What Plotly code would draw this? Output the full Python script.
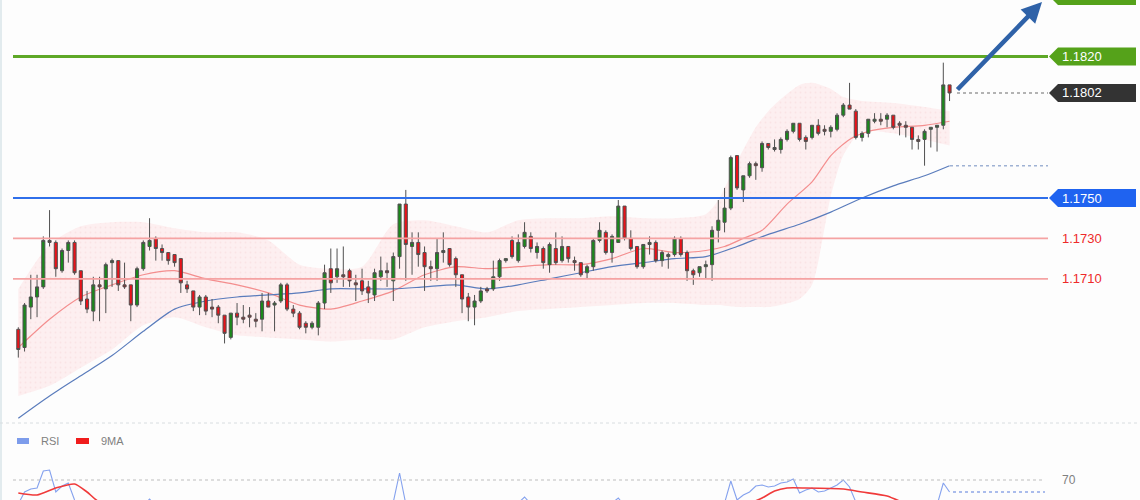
import plotly.graph_objects as go

# ---------------- data ----------------
opens = [1.1685,1.1676,1.1696,1.1701,1.1706,1.1729,1.1728,1.1714,1.1724,1.1728,
         1.1714,1.1700,1.1694,1.1707,1.1705,1.1718,1.1719,1.1707,1.1707,1.1697,
         1.1715,1.1726,1.1730,1.1725,1.1723,1.1722,1.1720,1.1707,1.1704,1.1696,
         1.1701,1.1696,1.1696,1.1692,1.1681,1.1693,1.1691,1.1692,1.1690,1.1690,
         1.1699,1.1697,1.1699,1.1707,1.1695,1.1693,1.1688,1.1686,1.1686,1.1698,
         1.1715,1.1711,1.1712,1.1714,1.1708,1.1709,1.1706,1.1702,1.1711,1.1714,
         1.1709,1.1721,1.1747,1.1726,1.1728,1.1723,1.1716,1.1715,1.1723,1.1725,
         1.1720,1.1712,1.1701,1.1696,1.1699,1.1705,1.1705,1.1711,1.1719,1.1729,
         1.1719,1.1726,1.1731,1.1723,1.1725,1.1717,1.1725,1.1719,1.1726,1.1719,
         1.1718,1.1713,1.1716,1.1729,1.1733,1.1723,1.1728,1.1746,1.1730,1.1726,
         1.1716,1.1727,1.1728,1.1719,1.1721,1.1722,1.1730,1.1723,1.1714,1.1713,
         1.1716,1.1717,1.1734,1.1738,1.1745,1.1771,1.1754,1.1761,1.1767,1.1765,
         1.1777,1.1775,1.1774,1.1779,1.1783,1.1787,1.1780,1.1780,1.1786,1.1784,
         1.1783,1.1784,1.1791,1.1796,1.1793,1.1780,1.1782,1.1788,1.1789,1.1789,
         1.1791,1.1787,1.1786,1.1785,1.1779,1.1779,1.1784,1.1785,1.1786,1.1806]
highs = [1.1686,1.1698,1.1712,1.1712,1.1731,1.1744,1.1729,1.1725,1.1729,1.1729,
         1.1714,1.1704,1.1711,1.1711,1.1718,1.1720,1.1719,1.1718,1.1707,1.1716,
         1.1729,1.1740,1.1731,1.1727,1.1723,1.1722,1.1720,1.1709,1.1704,1.1702,
         1.1702,1.1700,1.1697,1.1692,1.1693,1.1698,1.1697,1.1696,1.1693,1.1703,
         1.1703,1.1699,1.1708,1.1708,1.1697,1.1694,1.1689,1.1689,1.1699,1.1717,
         1.1725,1.1725,1.1726,1.1715,1.1712,1.1715,1.1709,1.1715,1.1721,1.1718,
         1.1723,1.1747,1.1754,1.1733,1.1733,1.1726,1.1719,1.1730,1.1733,1.1725,
         1.1721,1.1712,1.1703,1.1702,1.1706,1.1706,1.1719,1.1720,1.1720,1.1731,
         1.1732,1.1738,1.1733,1.1728,1.1726,1.1728,1.1733,1.1731,1.1726,1.1721,
         1.1718,1.1717,1.1730,1.1738,1.1734,1.1732,1.1749,1.1746,1.1734,1.1726,
         1.1727,1.1731,1.1729,1.1724,1.1723,1.1731,1.1731,1.1724,1.1715,1.1716,
         1.1719,1.1736,1.1749,1.1755,1.1771,1.1771,1.1761,1.1768,1.1768,1.1778,
         1.1777,1.1779,1.1780,1.1784,1.1787,1.1787,1.1781,1.1786,1.1789,1.1786,
         1.1786,1.1792,1.1797,1.1807,1.1794,1.1783,1.1789,1.1792,1.1792,1.1792,
         1.1791,1.1788,1.1788,1.1785,1.1781,1.1784,1.1785,1.1786,1.1817,1.1806]
lows  = [1.1671,1.1674,1.1690,1.1691,1.1705,1.1726,1.1711,1.1713,1.1718,1.1712,
         1.1697,1.1693,1.1689,1.1689,1.1693,1.1706,1.1704,1.1705,1.1689,1.1696,
         1.1714,1.1724,1.1719,1.1719,1.1717,1.1716,1.1703,1.1703,1.1694,1.1692,
         1.1692,1.1691,1.1688,1.1678,1.1680,1.1687,1.1688,1.1686,1.1686,1.1684,
         1.1696,1.1684,1.1698,1.1694,1.1691,1.1685,1.1683,1.1685,1.1682,1.1695,
         1.1703,1.1708,1.1706,1.1706,1.1699,1.1702,1.1698,1.1699,1.1709,1.1706,
         1.1699,1.1715,1.1709,1.1712,1.1716,1.1704,1.1709,1.1709,1.1718,1.1716,
         1.1706,1.1693,1.1689,1.1687,1.1698,1.1703,1.1704,1.1709,1.1718,1.1720,
         1.1718,1.1725,1.1723,1.1720,1.1715,1.1713,1.1717,1.1718,1.1718,1.1714,
         1.1711,1.1710,1.1714,1.1728,1.1722,1.1718,1.1728,1.1729,1.1724,1.1715,
         1.1715,1.1722,1.1718,1.1716,1.1715,1.1721,1.1721,1.1709,1.1707,1.1711,
         1.1710,1.1709,1.1728,1.1733,1.1744,1.1754,1.1748,1.1760,1.1759,1.1763,
         1.1774,1.1773,1.1772,1.1778,1.1782,1.1778,1.1774,1.1779,1.1781,1.1781,
         1.1780,1.1783,1.1790,1.1794,1.1779,1.1778,1.1780,1.1787,1.1786,1.1785,
         1.1784,1.1781,1.1780,1.1774,1.1774,1.1766,1.1775,1.1773,1.1784,1.1798]
closes = [1.1675,1.1697,1.1701,1.1706,1.1729,1.1728,1.1715,1.1724,1.1728,1.1713,
         1.1699,1.1695,1.1707,1.1706,1.1717,1.1719,1.1707,1.1706,1.1697,1.1715,
         1.1728,1.1729,1.1725,1.1723,1.1719,1.1718,1.1708,1.1705,1.1696,1.1701,
         1.1694,1.1695,1.1692,1.1683,1.1693,1.1691,1.1690,1.1691,1.1689,1.1699,
         1.1696,1.1698,1.1707,1.1695,1.1693,1.1686,1.1686,1.1688,1.1698,1.1713,
         1.1708,1.1715,1.1711,1.1709,1.1707,1.1704,1.1703,1.1713,1.1714,1.1713,
         1.1721,1.1747,1.1727,1.1728,1.1722,1.1716,1.1715,1.1723,1.1724,1.1717,
         1.1712,1.1700,1.1696,1.1699,1.1704,1.1704,1.1711,1.1719,1.1720,1.1721,
         1.1728,1.1733,1.1725,1.1726,1.1718,1.1727,1.1718,1.1726,1.1720,1.1718,
         1.1712,1.1716,1.1729,1.1734,1.1723,1.1731,1.1746,1.1730,1.1725,1.1716,
         1.1727,1.1728,1.1719,1.1723,1.1722,1.1730,1.1722,1.1714,1.1712,1.1716,
         1.1717,1.1734,1.1739,1.1745,1.1770,1.1755,1.1761,1.1767,1.1766,1.1777,
         1.1775,1.1774,1.1779,1.1783,1.1787,1.1779,1.1778,1.1786,1.1782,1.1783,
         1.1785,1.1791,1.1796,1.1794,1.1780,1.1782,1.1789,1.1789,1.1788,1.1791,
         1.1785,1.1786,1.1785,1.1779,1.1778,1.1783,1.1785,1.1786,1.1806,1.1802]

# Bollinger band edges (sampled at candle index)
band_idx = [0,5,10,15,20,25,30,35,40,45,50,55,60,65,70,75,80,85,90,95,100,105,
            110,112,115,118,120,122,125,127,130,132,135,140,145,149]
band_upper = [1.1705,1.1727,1.1736,1.1738,1.1738,1.1735,1.1733,1.1733,1.1729,1.1717,
              1.1715,1.1716,1.1737,1.1739,1.1736,1.1733,1.1739,1.1740,1.1740,1.1741,
              1.1740,1.1740,1.1742,1.1749,1.1768,1.1785,1.1793,1.1799,1.1806,1.1807,
              1.1804,1.1800,1.1798,1.1797,1.1795,1.1793]
band_lower = [1.1652,1.1657,1.1666,1.1675,1.1687,1.1691,1.1686,1.1682,1.1681,1.1680,
              1.1679,1.1680,1.1680,1.1686,1.1689,1.1691,1.1694,1.1695,1.1696,1.1697,
              1.1698,1.1698,1.1697,1.1697,1.1696,1.1696,1.1696,1.1697,1.1700,1.1707,
              1.1751,1.1771,1.1783,1.1782,1.1779,1.1776]

# middle band (light red line)
mid_idx = [0,5,10,15,20,25,30,35,40,45,50,55,60,65,70,75,80,85,90,95,100,105,
           110,113,116,119,123,127,130,133,136,140,145,149]
mid_vals = [1.1676,1.1690,1.1701,1.1707,1.1712,1.1714,1.1710,1.1707,1.1703,1.1697,
            1.1695,1.1699,1.1704,1.1712,1.1716,1.1715,1.1716,1.1717,1.1717,1.1720,
            1.1725,1.1723,1.1724,1.1726,1.1730,1.1734,1.1747,1.1758,1.1771,1.1779,
            1.1783,1.1785,1.1786,1.1788]

# long moving average (blue line)
ma_idx = [0,5,10,15,20,25,30,35,40,45,50,55,60,65,70,75,80,85,90,95,100,105,
          110,115,120,125,130,135,140,145,149]
ma_vals = [1.1641,1.1652,1.1662,1.1672,1.1684,1.1695,1.1699,1.1701,1.1702,1.1703,
           1.1705,1.1705,1.1705,1.1706,1.1707,1.1705,1.1707,1.1710,1.1713,1.1716,
           1.1718,1.1720,1.1721,1.1726,1.1732,1.1737,1.1743,1.1750,1.1756,1.1761,
           1.1766]

# RSI panel
rsi_idx = [0,1,2,3,4,5,6,7,8,9,10,15,20,21,22,30,40,50,60,61,62,70,80,81,82,90,95,96,97,
           105,113,114,115,116,117,118,119,120,121,122,123,124,125,126,127,128,129,130,
           131,132,133,134,140,147,148,149]
rsi_vals = [46,58,61,62,79,80,58,64,67,50,40,38,44,51,44,35,38,44,48,77,46,40,47,53,46,42,47,52,44,
            42,47,69,50,55,58,64,65,63,64,67,68,71,57,60,62,58,59,62,
            65,70,63,48,42,45,67,58]
ma9_idx = [0,3,6,9,11,13,30,60,90,116,119,121,123,126,132,135,139,141,145,149]
ma9_vals = [57,55,62,66,58,48,40,42,42,45,52,59,62,62,61,58,54,49,44,46]

# levels
resistance_2 = 1.1850
resistance_1 = 1.1820
last_price = 1.1802
ma_last = 1.1766
pivot = 1.1750
support_1 = 1.1730
support_2 = 1.1710
rsi_level = 70
rsi_last = 58

# ---------------- layout geometry ----------------
W, H = 1140, 500
PX_L, PX_R = 13, 1048
def px(x):
    return x / W
def py(y):
    return 1 - y / H

PRICE_RANGE = [1.163911, 1.184802]
X_RANGE = [-0.85, 164.75]
PIX_PER_PRICE = 422 / (PRICE_RANGE[1] - PRICE_RANGE[0])

fig = go.Figure()

fig.add_trace(go.Scatter(x=band_idx, y=band_upper, mode='lines',
                         line=dict(width=0, shape='spline', smoothing=0.7),
                         hoverinfo='skip', showlegend=False))
fig.add_trace(go.Scatter(x=band_idx, y=band_lower, mode='lines',
                         line=dict(width=0, shape='spline', smoothing=0.7),
                         fill='tonexty', fillcolor='rgba(253,215,218,0.45)',
                         fillpattern=dict(shape='.', bgcolor='rgba(253,218,221,0.42)',
                                          fgcolor='rgba(240,170,176,0.35)', size=5, solidity=0.1),
                         hoverinfo='skip', showlegend=False))
fig.add_trace(go.Scatter(x=mid_idx, y=mid_vals, mode='lines',
                         line=dict(color='rgba(240,110,110,0.75)', width=1.2, shape='spline', smoothing=0.7),
                         hoverinfo='skip', showlegend=False))
fig.add_trace(go.Scatter(x=ma_idx, y=ma_vals, mode='lines',
                         line=dict(color='#5a7cbc', width=1.2, shape='spline', smoothing=0.7),
                         hoverinfo='skip', showlegend=False))
# candles on an overlaying subplot so they are drawn above the band fill
fig.add_trace(go.Candlestick(x=list(range(len(opens))), open=opens, high=highs, low=lows, close=closes,
                             xaxis='x3', yaxis='y3',
                             increasing=dict(line=dict(color='#505050', width=1), fillcolor='#1a8a1a'),
                             decreasing=dict(line=dict(color='#505050', width=1), fillcolor='#ea1219'),
                             whiskerwidth=0, showlegend=False))

fig.add_trace(go.Scatter(x=rsi_idx, y=rsi_vals, mode='lines', yaxis='y2',
                         line=dict(color='rgba(110,145,235,0.85)', width=1.1),
                         hoverinfo='skip', showlegend=False))
fig.add_trace(go.Scatter(x=ma9_idx, y=ma9_vals, mode='lines', yaxis='y2',
                         line=dict(color='#f03a3a', width=1.6, shape='spline', smoothing=0.6),
                         hoverinfo='skip', showlegend=False))

shapes = []
# left border & panel separator
shapes.append(dict(type='line', xref='paper', yref='paper', x0=px(1), x1=px(1), y0=0, y1=1,
                   line=dict(color='#e2ebee', width=2)))
shapes.append(dict(type='line', xref='paper', yref='paper', x0=0, x1=1, y0=py(423), y1=py(423),
                   line=dict(color='#d8dde0', width=1, dash='dot')))

# horizontal levels
def hline(level, color, width, dash='solid', x0=PX_L, x1=PX_R, yref='y'):
    shapes.append(dict(type='line', xref='paper', yref=yref, x0=px(x0), x1=px(x1),
                       y0=level, y1=level, line=dict(color=color, width=width, dash=dash)))

hline(resistance_1, '#5ea827', 3)
hline(pivot, '#2f6fea', 1.8)
hline(support_1, '#f5a3a3', 1.8)
hline(support_2, '#f5a3a3', 1.8)
hline(last_price, '#9a9a9a', 1.5, 'dot', x0=957)
hline(ma_last, '#9fb2d4', 1.5, 'dot', x0=950)
hline(rsi_level, '#bdbdbd', 1.2, 'dot', x1=1045, yref='y2')
hline(rsi_last, '#8ea6e6', 1.5, 'dot', x0=953, x1=1045, yref='y2')

# price tags on the right
def tag(level, color):
    hh = 9 / PIX_PER_PRICE
    xt, xs, xe = px(1049), px(1058), px(1136)
    path = (f'M {xt},{level} L {xs},{level + hh} L {xe},{level + hh} '
            f'L {xe},{level - hh} L {xs},{level - hh} Z')
    shapes.append(dict(type='path', xref='paper', yref='y', path=path,
                       fillcolor=color, line=dict(color=color, width=0)))

tag(resistance_2, '#55a21a')
tag(resistance_1, '#55a21a')
tag(last_price, '#333333')
tag(pivot, '#1f63f0')

# RSI legend swatches
shapes.append(dict(type='rect', xref='paper', yref='paper', x0=px(17), x1=px(29),
                   y0=py(444), y1=py(438), fillcolor='#7d9ceb', line=dict(width=0)))
shapes.append(dict(type='rect', xref='paper', yref='paper', x0=px(76), x1=px(89),
                   y0=py(444), y1=py(438), fillcolor='#f01c1c', line=dict(width=0)))

annotations = []
FONT = 'Liberation Sans, Arial, sans-serif'
def label(level, text, color, yref='y'):
    annotations.append(dict(xref='paper', yref=yref, x=px(1060), y=level, text=text,
                            xanchor='left', yanchor='middle', showarrow=False,
                            font=dict(family=FONT, size=13, color=color)))

label(resistance_1, f'{resistance_1:.4f}', '#ffffff')
label(last_price, f'{last_price:.4f}', '#ffffff')
label(pivot, f'{pivot:.4f}', '#ffffff')
label(support_1, f'{support_1:.4f}', '#ee2a2a')
label(support_2, f'{support_2:.4f}', '#ee2a2a')
annotations.append(dict(xref='paper', yref='y2', x=px(1060), y=rsi_level, text=str(rsi_level),
                        xanchor='left', yanchor='middle', showarrow=False,
                        font=dict(family=FONT, size=12, color='#808080')))
annotations.append(dict(xref='paper', yref='paper', x=px(39), y=py(441), text='RSI',
                        xanchor='left', yanchor='middle', showarrow=False,
                        font=dict(family=FONT, size=11, color='#808080')))
annotations.append(dict(xref='paper', yref='paper', x=px(99), y=py(441), text='9MA',
                        xanchor='left', yanchor='middle', showarrow=False,
                        font=dict(family=FONT, size=11, color='#808080')))
# trend arrow
annotations.append(dict(xref='paper', yref='y', x=px(1042), y=1.1847, text='',
                        showarrow=True, ax=-86, ay=89, arrowhead=2, arrowsize=0.9,
                        arrowwidth=4.5, arrowcolor='#2f62a8'))

fig.update_layout(
    width=W, height=H,
    margin=dict(l=0, r=0, t=0, b=0),
    paper_bgcolor='#fdfdfd', plot_bgcolor='#fdfdfd',
    showlegend=False,
    xaxis=dict(domain=[px(PX_L), px(PX_R)], range=X_RANGE, visible=False, fixedrange=True),
    yaxis=dict(domain=[py(422), 1], range=PRICE_RANGE, visible=False, fixedrange=True),
    yaxis2=dict(domain=[0, py(430)], range=[50, 120], visible=False, anchor='x', fixedrange=True),
    xaxis3=dict(overlaying='x', range=X_RANGE, visible=False, fixedrange=True,
                rangeslider=dict(visible=False)),
    yaxis3=dict(overlaying='y', range=PRICE_RANGE, visible=False, fixedrange=True),
    shapes=shapes, annotations=annotations,
)

fig.write_html('out.html', config={'displayModeBar': False, 'staticPlot': True},
               post_script="document.body.style.margin='0';document.body.style.overflow='hidden';")
